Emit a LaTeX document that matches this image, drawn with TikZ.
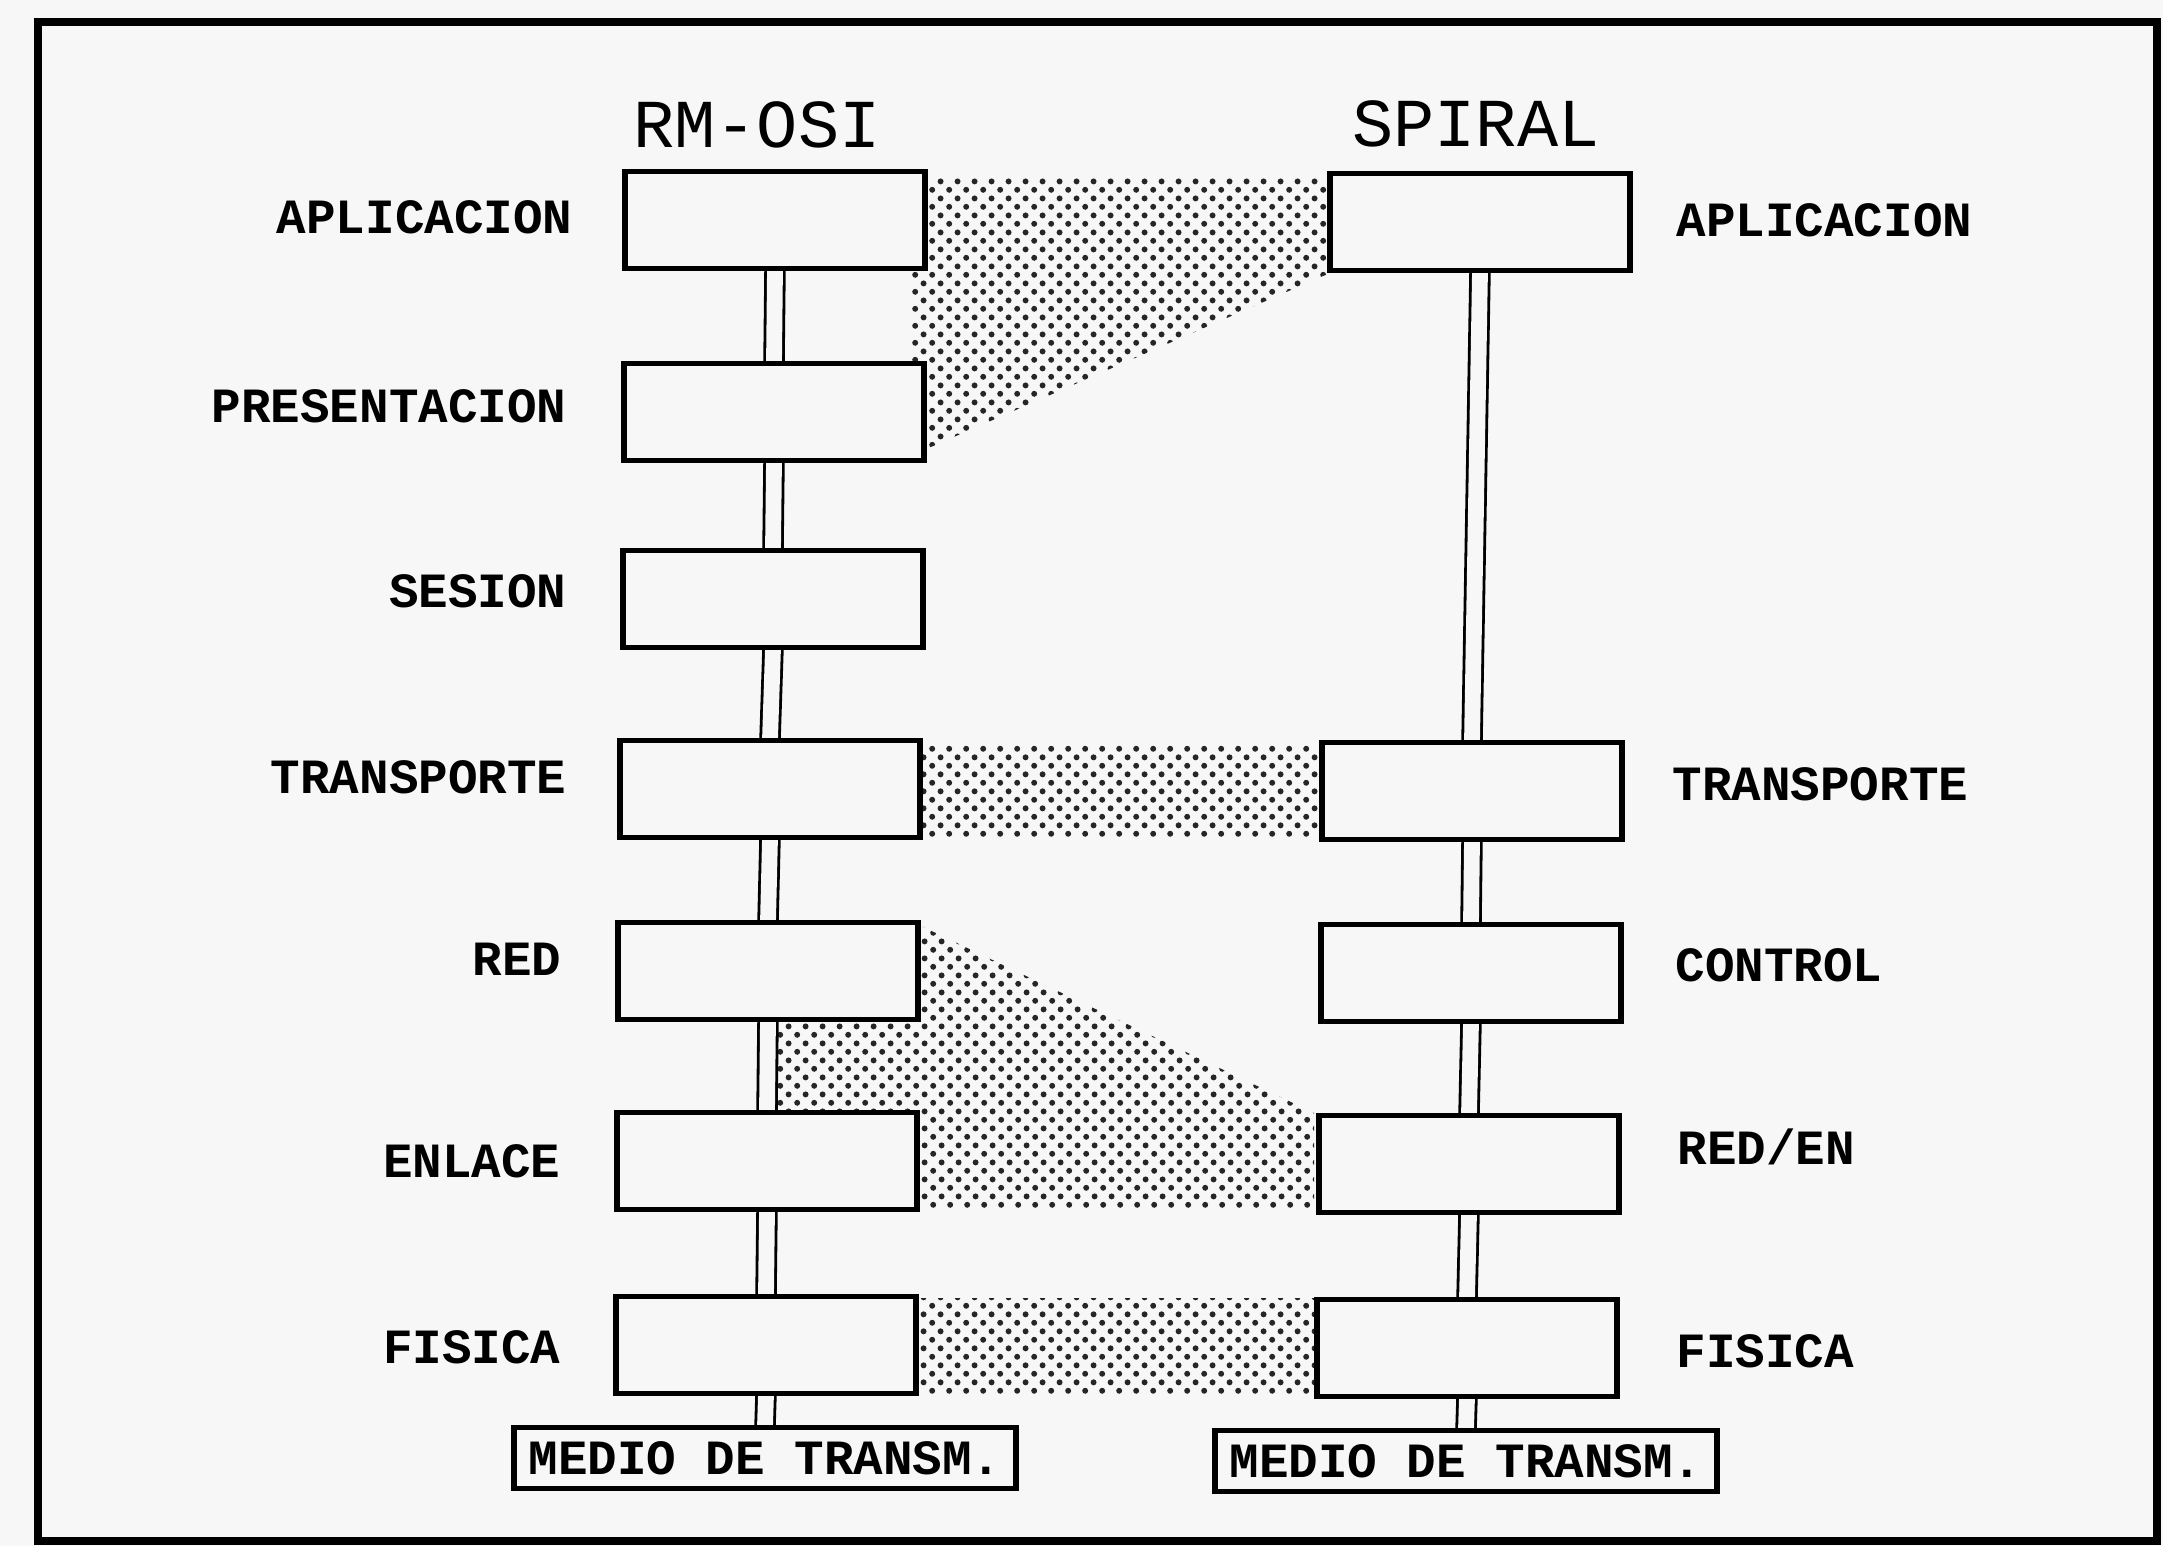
\documentclass[tikz,border=0pt]{standalone}
\usepackage{fontspec}
\newfontfamily\monofam{Liberation Mono}
\usetikzlibrary{patterns}
\definecolor{paper}{RGB}{247,247,247}
% coarse halftone screen of staggered dots
\pgfdeclarepatternformonly{halftone}{\pgfqpoint{0pt}{0pt}}{\pgfqpoint{4.8pt}{4.8pt}}{\pgfqpoint{4.8pt}{4.8pt}}{
  \pgfpathcircle{\pgfqpoint{1.2pt}{1.2pt}}{0.85pt}
  \pgfpathcircle{\pgfqpoint{3.6pt}{3.6pt}}{0.85pt}
  \pgfusepath{fill}}
\tikzset{
  layerbox/.style={draw, line width=1.1pt, fill=paper, minimum width=2.98cm, minimum height=0.95cm, inner sep=0pt},
  mediumbox/.style={draw, line width=1.1pt, fill=paper, minimum width=5.0cm, minimum height=0.59cm, inner sep=0pt,
    font=\monofam\bfseries\fontsize{14}{16}\selectfont},
  lbl/.style={font=\monofam\bfseries\fontsize{14}{16}\selectfont, inner sep=0pt, text height=9pt, text depth=0pt},
  ttl/.style={font=\monofam\fontsize{19.5}{22}\selectfont, inner sep=0pt, text height=12.7pt, text depth=0pt},
  link/.style={line width=0.8pt, double=paper, double distance=4.5pt},
  dots/.style={pattern=halftone, pattern color=black!85, draw=none}
}
\begin{document}
\begin{tikzpicture}[x=0.01cm, y=-0.01cm]
  % sheet
  \fill[paper] (0,0) rectangle (2163,1546);
  \useasboundingbox (0,0) rectangle (2163,1546);

  % correspondence between layers (dotted areas)
  \fill[dots] (911,178) -- (1330,178) -- (1330,273) -- (924,450) -- (911,450) -- cycle;
  \fill[dots] (920,745) rectangle (1322,836);
  \fill[dots] (768,925) -- (919,925) -- (1314,1113) -- (1314,1209) -- (768,1208) -- cycle;
  \fill[dots] (915,1298) rectangle (1317,1393);

  % RM-OSI stack
  \node[layerbox] (oApl)  at (775,220)  {};
  \node[layerbox] (oPre)  at (774,412)  {};
  \node[layerbox] (oSes)  at (773,599)  {};
  \node[layerbox] (oTra)  at (770,789)  {};
  \node[layerbox] (oRed)  at (768,971)  {};
  \node[layerbox] (oEnl)  at (767,1161) {};
  \node[layerbox] (oFis)  at (766,1345) {};
  \node[mediumbox] (oMed) at (765,1458) {MEDIO DE TRANSM.};

  % SPIRAL stack
  \node[layerbox] (sApl)  at (1480,222)  {};
  \node[layerbox] (sTra)  at (1472,791)  {};
  \node[layerbox] (sCtl)  at (1471,973)  {};
  \node[layerbox] (sRen)  at (1469,1164) {};
  \node[layerbox] (sFis)  at (1467,1348) {};
  \node[mediumbox] (sMed) at (1466,1461) {MEDIO DE TRANSM.};

  % double-line links between layers
  \foreach \a/\b in {oApl/oPre, oPre/oSes, oSes/oTra, oTra/oRed, oRed/oEnl, oEnl/oFis, oFis/oMed,
                     sApl/sTra, sTra/sCtl, sCtl/sRen, sRen/sFis, sFis/sMed}
    \draw[link] (\a.south) -- (\b.north);

  % redraw box outlines over the link ends
  \foreach \n in {oApl,oPre,oSes,oTra,oRed,oEnl,oFis,oMed,sApl,sTra,sCtl,sRen,sFis,sMed}
    \draw[line width=1.1pt] (\n.north west) rectangle (\n.south east);

  % titles
  \node[ttl] (tOsi) at (757,125) {RM-OSI};
  \node[ttl] (tSpi) at (1476,124) {SPIRAL};

  % RM-OSI layer names
  \node[lbl, anchor=east] (nApl) at (573,218)  {APLICACION};
  \node[lbl, anchor=east] (nPre) at (567,407)  {PRESENTACION};
  \node[lbl, anchor=east] (nSes) at (567,592)  {SESION};
  \node[lbl, anchor=east] (nTra) at (567,778)  {TRANSPORTE};
  \node[lbl, anchor=east] (nRed) at (562,960)  {RED};
  \node[lbl, anchor=east] (nEnl) at (561,1162) {ENLACE};
  \node[lbl, anchor=east] (nFis) at (561,1348) {FISICA};

  % SPIRAL layer names
  \node[lbl, anchor=west] (mApl) at (1676,221)  {APLICACION};
  \node[lbl, anchor=west] (mTra) at (1672,785)  {TRANSPORTE};
  \node[lbl, anchor=west] (mCtl) at (1675,966)  {CONTROL};
  \node[lbl, anchor=west] (mRen) at (1677,1149) {RED/EN};
  \node[lbl, anchor=west] (mFis) at (1676,1352) {FISICA};

  % outer frame
  \draw[line width=2.5pt] (38,22) rectangle (2157,1541);
\end{tikzpicture}
\end{document}
